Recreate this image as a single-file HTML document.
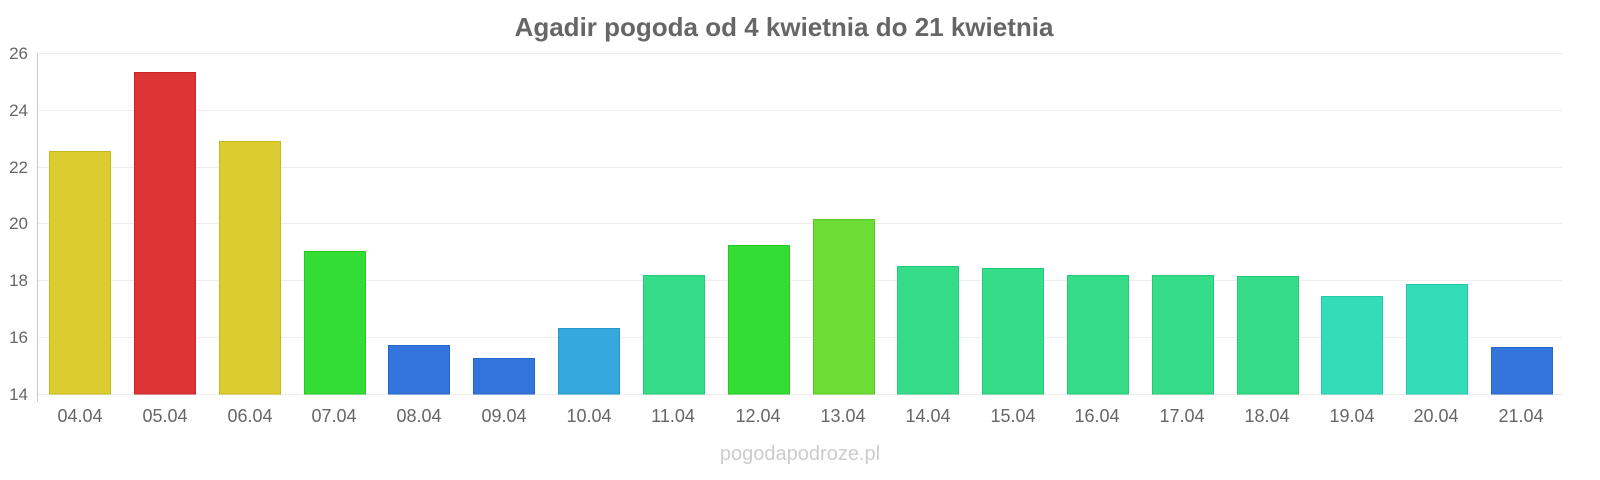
<!DOCTYPE html>
<html><head><meta charset="utf-8"><style>
html,body{margin:0;padding:0;background:#fff;}
svg{display:block;font-family:"Liberation Sans",sans-serif;}
</style></head><body>
<svg width="1600" height="480" xmlns="http://www.w3.org/2000/svg">
<text x="784" y="36" text-anchor="middle" font-size="26" font-weight="bold" fill="#666">Agadir pogoda od 4 kwietnia do 21 kwietnia</text>
<g stroke="#eeeeee" stroke-width="1">
<line x1="37" x2="1562" y1="53.5" y2="53.5"/>
<line x1="37" x2="1562" y1="110.5" y2="110.5"/>
<line x1="37" x2="1562" y1="167.5" y2="167.5"/>
<line x1="37" x2="1562" y1="223.5" y2="223.5"/>
<line x1="37" x2="1562" y1="280.5" y2="280.5"/>
<line x1="37" x2="1562" y1="337.5" y2="337.5"/>
<line x1="37" x2="1562" y1="394.5" y2="394.5"/>
</g>
<line x1="37.5" x2="37.5" y1="53" y2="402" stroke="#ccc"/>
<g font-size="17" fill="#666" text-anchor="end">
<text x="28" y="59">26</text><text x="28" y="116">24</text><text x="28" y="173">22</text>
<text x="28" y="229">20</text><text x="28" y="286">18</text><text x="28" y="343">16</text><text x="28" y="400">14</text>
</g>
<g stroke-width="1">
<rect x="49.5" y="151.5" width="61" height="242.5" fill="#dccc30" stroke="#c8b820"/>
<rect x="134.5" y="72.5" width="61" height="321.5" fill="#dd3535" stroke="#c82525"/>
<rect x="219.5" y="141.5" width="61" height="252.5" fill="#dccc30" stroke="#c8b820"/>
<rect x="304.5" y="251.5" width="61" height="142.5" fill="#33dd33" stroke="#25c825"/>
<rect x="388.5" y="345.5" width="61" height="48.5" fill="#3375dd" stroke="#2565c8"/>
<rect x="473.5" y="358.5" width="61" height="35.5" fill="#3375dd" stroke="#2565c8"/>
<rect x="558.5" y="328.5" width="61" height="65.5" fill="#35a8dd" stroke="#2598c8"/>
<rect x="643.5" y="275.5" width="61" height="118.5" fill="#35dd88" stroke="#25c878"/>
<rect x="728.5" y="245.5" width="61" height="148.5" fill="#33dd33" stroke="#25c825"/>
<rect x="813.5" y="219.5" width="61" height="174.5" fill="#6cdd35" stroke="#5cc825"/>
<rect x="897.5" y="266.5" width="61" height="127.5" fill="#35dd88" stroke="#25c878"/>
<rect x="982.5" y="268.5" width="61" height="125.5" fill="#35dd88" stroke="#25c878"/>
<rect x="1067.5" y="275.5" width="61" height="118.5" fill="#35dd88" stroke="#25c878"/>
<rect x="1152.5" y="275.5" width="61" height="118.5" fill="#35dd88" stroke="#25c878"/>
<rect x="1237.5" y="276.5" width="61" height="117.5" fill="#35dd88" stroke="#25c878"/>
<rect x="1321.5" y="296.5" width="61" height="97.5" fill="#33ddb8" stroke="#25c8a8"/>
<rect x="1406.5" y="284.5" width="61" height="109.5" fill="#33ddb8" stroke="#25c8a8"/>
<rect x="1491.5" y="347.5" width="61" height="46.5" fill="#3375dd" stroke="#2565c8"/>
</g>
<g font-size="18" fill="#666" text-anchor="middle">
<text x="80" y="422">04.04</text><text x="165" y="422">05.04</text><text x="250" y="422">06.04</text>
<text x="334" y="422">07.04</text><text x="419" y="422">08.04</text><text x="504" y="422">09.04</text>
<text x="589" y="422">10.04</text><text x="673" y="422">11.04</text><text x="758" y="422">12.04</text>
<text x="843" y="422">13.04</text><text x="928" y="422">14.04</text><text x="1013" y="422">15.04</text>
<text x="1097" y="422">16.04</text><text x="1182" y="422">17.04</text><text x="1267" y="422">18.04</text>
<text x="1352" y="422">19.04</text><text x="1436" y="422">20.04</text><text x="1521" y="422">21.04</text>
</g>
<text x="800" y="460" text-anchor="middle" font-size="20" fill="#cccccc">pogodapodroze.pl</text>
</svg>
</body></html>
